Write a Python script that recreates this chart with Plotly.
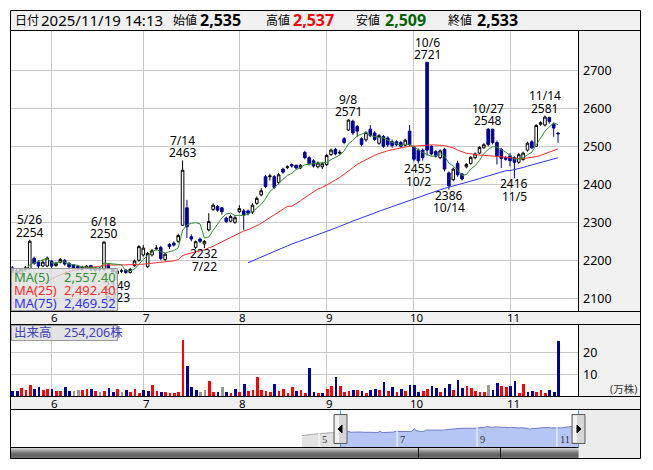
import plotly.graph_objects as go
import pandas as pd

W, H = 653, 470
OFF = 8  # page body margin of the written html
def fx(x): return (x - OFF) / W
def fy(y): return 1 - (y - OFF) / H

# ---------------- data ----------------
holidays = ["2025-04-29", "2025-05-05", "2025-05-06", "2025-07-21", "2025-08-11",
            "2025-09-15", "2025-09-23", "2025-10-13", "2025-11-03"]
all_dates = [d for d in pd.bdate_range("2025-04-17", "2025-11-19")
             if d.strftime("%Y-%m-%d") not in holidays]
N_PRE = 20
pre_dates = all_dates[:N_PRE]
trade_dates = all_dates[N_PRE:]

open_ = [2180,2172,2165,2176,2178,2205,2195,2185,2185,2198,
         2186,2195,2200,2192,2188,2184,2176,2180,2186,2174,
         2178,2176,2188,2178,2165,2172,2174,2168,2186,2200,
         2214,2183,2214,2230,2234,2202,2242,2245,2250,2292,
         2338,2262,2234,2256,2243,2280,2334,2342,2338,2311,
         2303,2300,2328,2330,2330,2327,2350,2372,2420,2420,
         2420,2405,2440,2444,2452,2450,2443,2484,2470,2462,
         2446,2446,2452,2478,2492,2482,2520,2543,2566,2552,
         2520,2517,2545,2535,2508,2526,2522,2512,2512,2510,
         2503,2540,2498,2490,2490,2721,2500,2486,2470,2492,
         2430,2412,2455,2427,2446,2455,2470,2482,2496,2545,
         2545,2510,2492,2470,2475,2470,2458,2465,2490,2512,
         2500,2558,2556,2576,2558,2535]
high = [2185,2178,2180,2185,2254,2210,2200,2200,2210,2200,
        2196,2206,2203,2195,2190,2186,2186,2188,2188,2182,
        2182,2250,2190,2180,2176,2178,2176,2180,2202,2240,
        2240,2222,2230,2240,2238,2220,2245,2250,2270,2463,
        2359,2268,2252,2260,2253,2324,2350,2346,2340,2315,
        2320,2318,2345,2335,2334,2350,2368,2390,2425,2428,
        2424,2430,2444,2450,2455,2452,2453,2488,2474,2466,
        2460,2458,2480,2494,2496,2490,2524,2571,2570,2556,
        2524,2540,2556,2540,2532,2530,2526,2518,2516,2514,
        2520,2556,2502,2494,2494,2721,2503,2490,2492,2496,
        2434,2444,2462,2430,2456,2474,2484,2500,2508,2548,
        2546,2515,2496,2475,2482,2474,2482,2486,2512,2516,
        2558,2566,2581,2578,2562,2537]
low = [2168,2160,2162,2170,2175,2188,2180,2182,2182,2180,
       2183,2192,2186,2180,2176,2172,2174,2176,2172,2170,
       2170,2172,2176,2165,2149,2166,2164,2165,2183,2196,
       2210,2180,2210,2226,2200,2198,2230,2236,2246,2290,
       2259,2250,2230,2245,2232,2276,2330,2328,2320,2298,
       2300,2296,2325,2280,2318,2322,2346,2368,2390,2410,
       2388,2400,2428,2440,2444,2440,2440,2466,2450,2444,
       2442,2440,2448,2475,2476,2478,2505,2540,2530,2525,
       2500,2512,2524,2514,2504,2496,2498,2496,2500,2496,
       2500,2500,2460,2455,2462,2476,2476,2470,2466,2434,
       2386,2408,2420,2410,2442,2452,2466,2479,2494,2500,
       2505,2452,2443,2462,2447,2416,2454,2462,2486,2492,
       2498,2554,2552,2560,2525,2509]
close = [2172,2165,2176,2180,2250,2192,2185,2195,2206,2185,
         2192,2202,2190,2183,2180,2178,2182,2185,2176,2178,
         2176,2248,2180,2170,2172,2172,2168,2176,2198,2236,
         2232,2218,2225,2232,2205,2216,2236,2240,2265,2437,
         2288,2256,2249,2250,2250,2302,2345,2332,2328,2302,
         2315,2312,2336,2320,2324,2345,2363,2383,2394,2422,
         2392,2425,2432,2446,2448,2443,2450,2470,2455,2448,
         2456,2454,2476,2490,2480,2484,2510,2569,2535,2540,
         2505,2536,2528,2518,2528,2500,2504,2502,2504,2500,
         2516,2504,2466,2462,2470,2490,2480,2474,2488,2440,
         2396,2440,2425,2414,2452,2471,2480,2497,2504,2505,
         2510,2475,2468,2466,2462,2458,2478,2482,2508,2496,
         2555,2562,2577,2565,2548,2533]
# closes before the visible window (shown in the navigator, used by the averages)
pre_close = [1960,1985,2000,2020,2035,2050,2060,2075,2090,2100,
             2110,2125,2135,2140,2150,2155,2160,2165,2170,2175]

# volume in 万株
volume = [2.9,2.9,4.1,3.3,5.6,3.8,4.5,3.3,3.8,3.8,
          2.9,2.9,4.5,2.9,2.9,3.2,3.2,3.5,3.8,2.9,
          2.1,2.9,4.1,2.4,3.8,2.4,3.2,2.4,3.8,2.0,
          3.2,2.9,5.6,2.9,2.4,2.4,2.0,2.0,2.4,26.0,
          14.2,4.7,3.2,2.4,3.2,7.4,2.4,2.4,4.7,2.4,
          2.0,3.8,2.4,6.1,2.9,3.2,9.2,3.2,2.9,2.4,
          6.1,2.9,3.8,2.0,4.7,2.9,3.2,2.0,13.3,2.4,
          2.0,2.0,3.8,5.2,9.2,5.2,2.4,2.9,3.2,3.3,
          2.9,2.0,3.2,3.8,3.3,7.0,2.9,4.7,2.4,3.8,
          2.9,5.6,5.3,2.4,2.9,3.8,5.2,4.2,2.4,4.2,
          6.1,3.3,7.9,4.2,5.2,4.2,2.9,2.4,2.4,5.6,
          3.3,6.5,5.2,4.7,5.2,7.4,2.0,6.1,2.4,2.9,
          2.4,3.3,2.0,3.3,2.4,25.4]
# r = up from previous close, b = down, g = unchanged
vol_dir = ("bbrrrbbrrb" "rrbbggrrbr" "grbbrgbrrr" "bbrrbrrrrr" "bbbggrrbgb"
           "rbrbrrrrrr" "brrrrbrrbb" "rbrrbrrrbr" "brbbrbrbrb" "rbbbrrbbrb"
           "brbbrrrrrg" "bbrrbbrrbb" "rrrbbb")

high_marks = [("5/26", 2254), ("6/18", 2250), ("7/14", 2463), ("9/8", 2571),
              ("10/6", 2721), ("10/27", 2548), ("11/14", 2581)]
low_marks = [("6/23", 2149), ("7/22", 2232), ("10/2", 2455), ("10/14", 2386), ("11/5", 2416)]

price_ticks = [2100, 2200, 2300, 2400, 2500, 2600, 2700]
vol_ticks = [10, 20]

header = dict(date="2025/11/19 14:13", open="2,535", high="2,537", low="2,509", close="2,533")
ma_legend = [("MA(5)", "2,557.40"), ("MA(25)", "2,492.40"), ("MA(75)", "2,469.52")]
vol_legend = "出来高　254,206株"

# ---------------- derived ----------------
n = len(trade_dates)
assert n == len(close) == 126
xi = list(range(n))
md = [f"{d.month}/{d.day}" for d in trade_dates]
month_idx = [i for i in range(1, n) if trade_dates[i].month != trade_dates[i - 1].month]
month_lbl = [str(trade_dates[i].month) for i in month_idx]

full = pd.Series(pre_close + close, dtype=float)
ma5 = full.rolling(5).mean().iloc[N_PRE:].tolist()
ma25 = full.rolling(25).mean().iloc[N_PRE:].tolist()
ma75 = full.rolling(75).mean().iloc[N_PRE:].tolist()

nav_x_all = list(range(-N_PRE, n))
nav_month = []
for k in range(1, len(all_dates)):
    if all_dates[k].month != all_dates[k - 1].month and all_dates[k].month % 2 == 1:
        nav_month.append((k - N_PRE, str(all_dates[k].month)))

FONT = "Noto Sans, Noto Sans CJK JP, sans-serif"
C_UP_BODY, C_DN = "white", "#000099"
C_MA5, C_MA25, C_MA75 = "#2f8f2f", "#ff2a2a", "#3030ff"
GRID = "#c8c8c8"
PANEL = "#f0f0f0"

fig = go.Figure()
fig.add_trace(go.Candlestick(
    x=xi, open=open_, high=high, low=low, close=close,
    increasing=dict(fillcolor=C_UP_BODY, line=dict(color="black", width=1)),
    decreasing=dict(fillcolor=C_DN, line=dict(color=C_DN, width=1)),
    whiskerwidth=0, xaxis="x", yaxis="y", showlegend=False, hoverinfo="skip"))
for ys, col in [(ma75, C_MA75), (ma25, C_MA25), (ma5, C_MA5)]:
    fig.add_trace(go.Scatter(x=xi, y=ys, mode="lines", line=dict(color=col, width=1),
                             xaxis="x", yaxis="y", showlegend=False, hoverinfo="skip"))
cmap = {"r": "#ff0000", "b": "#000099", "g": "#999999"}
fig.add_trace(go.Bar(x=xi, y=volume, marker=dict(color=[cmap[c] for c in vol_dir], line=dict(width=0)),
                     width=0.62, xaxis="x2", yaxis="y2", showlegend=False, hoverinfo="skip"))
# navigator
fig.add_trace(go.Scatter(x=nav_x_all[:N_PRE + 1], y=(pre_close + close)[:N_PRE + 1], mode="lines",
                         line=dict(color="#a8a8a8", width=1), fill="tozeroy", fillcolor="#e2e2e2",
                         xaxis="x3", yaxis="y3", showlegend=False, hoverinfo="skip"))
fig.add_trace(go.Scatter(x=xi, y=close, mode="lines",
                         line=dict(color="#7078c8", width=1), fill="tozeroy", fillcolor="#b6c6f4",
                         xaxis="x3", yaxis="y3", showlegend=False, hoverinfo="skip"))

# ---------------- axes ----------------
PX = 4.366
X0 = 12.3
xr = [(10.5 - X0) / PX, (578.5 - X0) / PX]
yr = [2500 - (311.5 - 146.3) / 0.38, 2500 + (146.3 - 30.5) / 0.38]
common_x = dict(range=xr, tickvals=month_idx, showticklabels=False, showgrid=True, gridcolor=GRID,
                gridwidth=1, zeroline=False, showline=False, ticks="", fixedrange=True)
layout = dict(
    width=W, height=H, margin=dict(l=0, r=0, t=0, b=0),
    paper_bgcolor="white", plot_bgcolor="white", font=dict(family=FONT, color="black"),
    showlegend=False, bargap=0, boxgap=0.15,
    xaxis=dict(domain=[fx(10.5), fx(578.5)], anchor="y", rangeslider=dict(visible=False), **common_x),
    yaxis=dict(domain=[fy(311.5), fy(30.5)], anchor="x", range=yr, tickvals=price_ticks,
               showticklabels=False, showgrid=True, gridcolor=GRID, zeroline=False, ticks=""),
    xaxis2=dict(domain=[fx(10.5), fx(578.5)], anchor="y2", **common_x),
    yaxis2=dict(domain=[fy(396.5), fy(324.5)], anchor="x2", range=[0, (396.5 - 324.5) / 2.2],
                tickvals=vol_ticks, showticklabels=False, showgrid=True, gridcolor=GRID,
                zeroline=False, ticks=""),
    xaxis3=dict(domain=[fx(10.5), fx(640.5)], anchor="y3", range=[(10.5 - 340) / 1.903, (640.5 - 340) / 1.903],
                visible=False, fixedrange=True),
    yaxis3=dict(domain=[fy(447.5), fy(410.5)], anchor="x3", range=[1182, 3624], visible=False),
)

# ---------------- shapes ----------------
shapes = []
def rect(x0, y0, x1, y1, fill, line=None, lw=0, layer="below"):
    shapes.append(dict(type="rect", xref="paper", yref="paper", x0=fx(x0), x1=fx(x1), y0=fy(y1), y1=fy(y0),
                       fillcolor=fill, line=dict(color=line or fill, width=lw), layer=layer))
def hline(y, x0, x1, col="black"):
    shapes.append(dict(type="line", xref="paper", yref="paper", x0=fx(x0), x1=fx(x1), y0=fy(y), y1=fy(y),
                       line=dict(color=col, width=1), layer="above"))
def vline(x, y0, y1, col="black"):
    shapes.append(dict(type="line", xref="paper", yref="paper", x0=fx(x), x1=fx(x), y0=fy(y0), y1=fy(y1),
                       line=dict(color=col, width=1), layer="above"))

rect(10.5, 10.5, 640.5, 30.5, PANEL)
rect(578.5, 30.5, 640.5, 311.5, PANEL)
rect(10.5, 311.5, 640.5, 324.5, PANEL)
rect(578.5, 324.5, 640.5, 396.5, PANEL)
rect(10.5, 396.5, 640.5, 409.5, PANEL)
rect(578.5, 409.5, 640.5, 458.5, "#ececec")
# scrollbar gradient
grad = ["#d0d0d0", "#b4b4b4", "#989898", "#7c7c7c", "#626262", "#4c4c4c", "#3c3c3c", "#323232",
        "#2e2e2e", "#383838", "#4a4a4a"]
for k, c in enumerate(grad):
    rect(10.5, 447.5 + k, 578.5, 448.5 + k, c, layer="above")
vline(418.5, 447.5, 458.5, "#1a1a1a")
vline(500.5, 447.5, 458.5, "#1a1a1a")
# navigator month lines
for k, _ in nav_month:
    shapes.append(dict(type="line", xref="x3", yref="paper", x0=k, x1=k, y0=fy(447.5), y1=fy(425),
                       line=dict(color="white", width=1), layer="above"))
# handle lines + handles
for hx in (340.5, 578.5):
    vline(hx, 410.5, 447.5, "#2aa0e0")
for hx0, hx1, tri in [(334, 347, "L"), (572, 585, "R")]:
    rect(hx0, 414.5, hx1, 443.5, "#d6d6d6", "#5a5a5a", 1, layer="above")
    rect(hx0 + 1, 415.5, hx0 + 5, 442.5, "#f2f2f2", layer="above")
    cx = (hx0 + hx1) / 2
    if tri == "L":
        pts = [(cx - 2.5, 429), (cx + 1.5, 425), (cx + 1.5, 433)]
    else:
        pts = [(cx + 2.5, 429), (cx - 1.5, 425), (cx - 1.5, 433)]
    path = "M " + " L ".join(f"{fx(a):.5f},{fy(b):.5f}" for a, b in pts) + " Z"
    shapes.append(dict(type="path", xref="paper", yref="paper", path=path, fillcolor="black",
                       line=dict(color="black", width=1), layer="above"))
# borders
rect(10.5, 10.5, 640.5, 458.5, "rgba(0,0,0,0)", "black", 1, layer="above")
for y in (30.5, 311.5, 324.5, 396.5, 409.5):
    hline(y, 10.5, 640.5)
hline(447.5, 10.5, 578.5)
vline(578.5, 30.5, 311.5)
vline(578.5, 324.5, 396.5)
layout["shapes"] = shapes

# ---------------- annotations ----------------
ann = []
def text(x, y, s, size=12, color="black", xanchor="left", xref="paper", yref="paper", **kw):
    ann.append(dict(x=x, y=y, xref=xref, yref=yref, text=s, showarrow=False, xanchor=xanchor,
                    yanchor="middle", font=dict(size=size, color=color, family=FONT), **kw))

# header
hy = fy(20.5)
text(fx(13), hy, "日付", 12)
text(fx(39), hy, header["date"], 15)
text(fx(171), hy, "始値", 12)
text(fx(198), hy, f"<b>{header['open']}</b>", 16)
text(fx(264), hy, "高値", 12)
text(fx(291), hy, f"<b>{header['high']}</b>", 16, "#ff0000")
text(fx(354), hy, "安値", 12)
text(fx(383), hy, f"<b>{header['low']}</b>", 16, "#006400")
text(fx(446), hy, "終値", 12)
text(fx(475), hy, f"<b>{header['close']}</b>", 16)

# price axis labels
for v in price_ticks:
    text(fx(581), v, str(v), 12.5, yref="y")
for v in vol_ticks:
    text(fx(581), v, str(v), 12.5, yref="y2")
text(fx(608), fy(389), "(万株)", 10.5, "#333333")

# month labels in strips
for i, lb in zip(month_idx, month_lbl):
    text(i, fy(317.5), lb, 11.5, xanchor="center", xref="x", xshift=3)
    text(i, fy(403), lb, 11.5, xanchor="center", xref="x", xshift=3)

# high / low marks
for lb, p in high_marks:
    i = md.index(lb)
    text(i, p, lb, 12, xanchor="center", xref="x", yref="y", yshift=20)
    text(i, p, str(p), 12, xanchor="center", xref="x", yref="y", yshift=7.5)
for lb, p in low_marks:
    i = md.index(lb)
    text(i, p, str(p), 12, xanchor="center", xref="x", yref="y", yshift=-5.5)
    text(i, p, lb, 12, xanchor="center", xref="x", yref="y", yshift=-18)

# MA legend box (drawn over the chart, semi-transparent)
ann.append(dict(x=fx(10.5), y=fy(268), xref="paper", yref="paper", text=" ", showarrow=False,
                xanchor="left", yanchor="top", width=105, height=41, bgcolor="rgba(222,222,222,0.78)",
                bordercolor="#9a9a9a", borderwidth=1, borderpad=0))
for (nm, val), col, yy in zip(ma_legend, [C_MA5, C_MA25, C_MA75], [277, 290, 303]):
    text(fx(12), fy(yy), nm, 13, col)
    text(fx(118), fy(yy), val, 13, col, xanchor="right")
# volume legend box
ann.append(dict(x=fx(10.5), y=fy(325), xref="paper", yref="paper", text=" ", showarrow=False,
                xanchor="left", yanchor="top", width=105, height=14, bgcolor="rgba(222,222,222,0.85)",
                bordercolor="#9a9a9a", borderwidth=1, borderpad=0))
text(fx(12), fy(332.5), vol_legend, 12.5, "#4040c0")

# navigator month labels
for k, lb in nav_month:
    ann.append(dict(x=k, y=fy(439), xref="x3", yref="paper", text=lb, showarrow=False, xanchor="left",
                    yanchor="middle", xshift=1, font=dict(size=10.5, color="#333333", family="Liberation Serif")))

layout["annotations"] = ann
fig.update_layout(**layout)
fig.write_html("out.html")
